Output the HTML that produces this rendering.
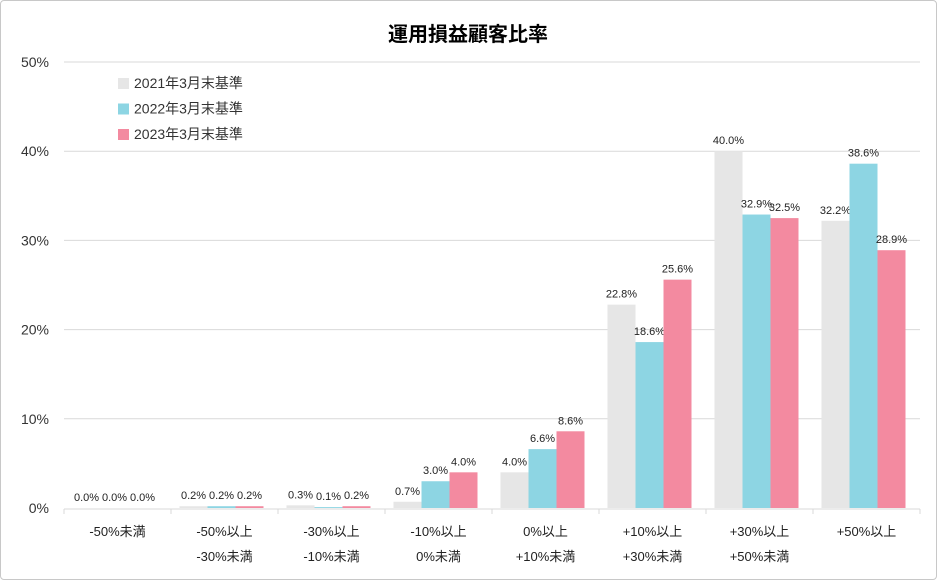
<!DOCTYPE html>
<html><head><meta charset="utf-8"><style>
body{margin:0;background:#fff;}
#wrap{position:relative;width:935px;height:578px;border:1px solid #c8c8c8;border-radius:4px;overflow:hidden;font-family:"Liberation Sans","Noto Sans CJK JP",sans-serif;}
svg text{font-family:"Liberation Sans","Noto Sans CJK JP",sans-serif;}
</style></head><body>
<div id="wrap">
<svg id="c" width="935" height="578"></svg>
</div>
<script>
const categories=[["-50%未満"],["-50%以上","-30%未満"],["-30%以上","-10%未満"],["-10%以上","0%未満"],["0%以上","+10%未満"],["+10%以上","+30%未満"],["+30%以上","+50%未満"],["+50%以上"]];
const seriesNames=["2021年3月末基準","2022年3月末基準","2023年3月末基準"];
const s2021=[0.0,0.2,0.3,0.7,4.0,22.8,40.0,32.2];
const s2022=[0.0,0.2,0.1,3.0,6.6,18.6,32.9,38.6];
const s2023=[0.0,0.2,0.2,4.0,8.6,25.6,32.5,28.9];
const yTicks=[0,10,20,30,40,50];
const colors=["#e6e6e6","#8dd5e3","#f38aa0"];
const NS="http://www.w3.org/2000/svg";
const svg=document.getElementById('c');
const X0=63,Y0=507,Y1=61,YMAX=50;
const bw=107;
const X1=X0+bw*categories.length;
const y=v=>Y0-(v/YMAX)*(Y0-Y1);
function el(t,a){const e=document.createElementNS(NS,t);for(const k in a)e.setAttribute(k,a[k]);svg.appendChild(e);return e;}
let t=el('text',{x:467,y:40,'text-anchor':'middle','font-size':20,'font-weight':'bold',fill:'#000'});
t.textContent="運用損益顧客比率";


yTicks.forEach(v=>{
 if(v>0){const g=el('line',{x1:X0,x2:X1,y1:y(v),y2:y(v),stroke:'#d9d9d9','stroke-width':1});
 
 }
 const l=el('text',{x:48,y:y(v)+5,'text-anchor':'end','font-size':14,fill:'#333'});
 l.textContent=v+"%";
 
 
});
const ax=el('line',{x1:X0,x2:X1,y1:Y0+1,y2:Y0+1,stroke:'#d9d9d9','stroke-width':1});


for(let i=0;i<=categories.length;i++){const tk=el('line',{x1:X0+i*bw,x2:X0+i*bw,y1:Y0+1,y2:Y0+6,stroke:'#d9d9d9'});

}
const all=[s2021,s2022,s2023];
const barW=28;
categories.forEach((c,i)=>{
 const cx=X0+i*bw+bw/2;
 all.forEach((s,j)=>{
  const bx=cx-3-1.5*barW+j*barW;
  const r=el('rect',{x:bx,y:y(s[i]),width:barW,height:Math.max(0,Y0-y(s[i])),fill:colors[j]});
  
  
  const lb=el('text',{x:bx+barW/2,y:y(s[i])-7,'text-anchor':'middle','font-size':11,fill:'#222'});
  lb.textContent=s[i].toFixed(1)+"%";
  
  
 });
 c.forEach((line,k)=>{
  const xl=el('text',{x:cx,y:535+k*25,'text-anchor':'middle','font-size':13,fill:'#222'});
  xl.textContent=line;
  
  
 });
});
seriesNames.forEach((n,j)=>{
 const yy=82+j*25.5;
 const sq=el('rect',{x:117,y:yy-5,width:11,height:11,fill:colors[j]});
 
 
 const lt=el('text',{x:133,y:yy+5,'font-size':14,fill:'#333'});
 lt.textContent=n;
 
 
});
</script>
</body></html>
